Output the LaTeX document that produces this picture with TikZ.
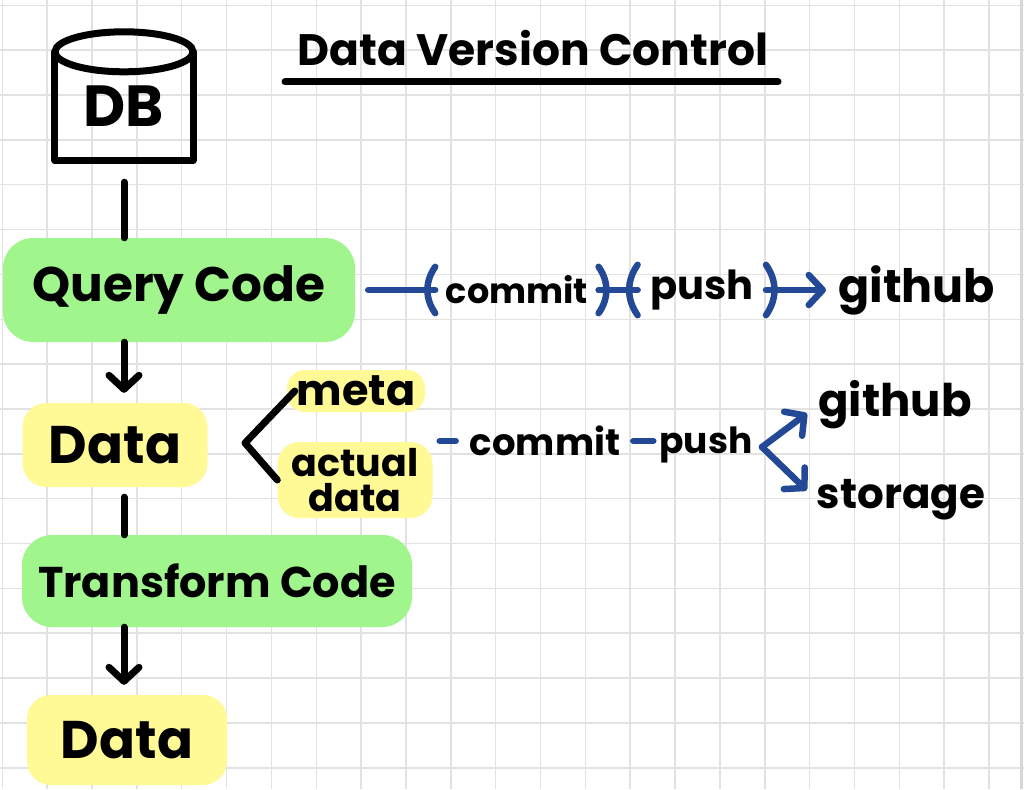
\documentclass[tikz,border=0pt]{standalone}
\usepackage{fontspec}
\setmainfont{Poppins}
\usepackage{tikz}
\usetikzlibrary{arrows.meta}
\usetikzlibrary{positioning}
\definecolor{hlgreen}{RGB}{160,246,140}
\definecolor{hlyellow}{RGB}{255,250,150}
\definecolor{penblue}{RGB}{34,72,150}
\definecolor{gridgray}{RGB}{226,226,226}
\tikzstyle{codebox} = [fill=hlgreen, rounded corners=30pt, inner sep=0pt]
\tikzstyle{databox} = [fill=hlyellow, rounded corners=24pt, inner sep=0pt]
\tikzstyle{word} = [inner sep=0pt]
\tikzstyle{parenbox} = [inner sep=0pt]
\tikzstyle{pen} = [line width=7pt, line cap=round, line join=round]
\tikzstyle{bluepen} = [pen, line width=6.5pt, draw=penblue]
\tikzstyle{gridline} = [draw=gridgray, line width=1.5pt]

\begin{document}
\begin{tikzpicture}[x=1pt, y=-1pt, >={Straight Barb[round,length=14pt,width=30pt]}]
    \useasboundingbox (0,0) rectangle (1024,789);
    \fill[white] (0,0) rectangle (1024,789);

    % the squared paper
    \foreach \i in {0,...,22}
        \draw[gridline] (2.3+44.85*\i,0) -- (2.3+44.85*\i,789);
    \foreach \j in {0,...,17}
        \draw[gridline] (0,5.3+44.85*\j) -- (1024,5.3+44.85*\j);
    \draw[draw=gridgray!95!black, line width=3pt] (1021,0) -- (1021,789);

    % title
    \node [word, anchor=base, font=\fontsize{44}{44}\selectfont\bfseries] (title) at (533,66) {Data Version Control};
    \draw [pen] (285,82) -- (778,82);

    % the database
    \node [word, minimum width=138pt, minimum height=108pt, font=\fontsize{58}{58}\selectfont\bfseries] (db) at (124,106) {DB};
    \draw [pen] (db.north west) -- (db.south west) -- (db.south east) -- (db.north east);
    \draw [pen] (db.north) ellipse (69 and 20);

    % main column
    \node [codebox, minimum width=352pt, minimum height=104pt, font=\fontsize{48.5}{48.5}\selectfont\bfseries] (query) at (179,290) {Query Code};
    \node [databox, minimum width=185pt, minimum height=84pt, font=\fontsize{53}{53}\selectfont\bfseries] (data1) at (115,445) {Data};
    \node [codebox, minimum width=390pt, minimum height=92pt, font=\fontsize{43}{43}\selectfont\bfseries] (trans) at (217,581) {Transform Code};
    \node [databox, minimum width=200pt, minimum height=90pt, font=\fontsize{53}{53}\selectfont\bfseries] (data2) at (127,740) {Data};

    \draw [pen, shorten <=22pt] (db.south) -- (db.south |- query.north);
    \draw [pen, ->, shorten >=10pt] (db.south |- query.south) -- (db.south |- data1.north);
    \draw [pen, shorten <=10pt] (db.south |- data1.south) -- (db.south |- trans.north);
    \draw [pen, ->, shorten >=10pt] (db.south |- trans.south) -- (db.south |- data2.north);

    % meta and actual data
    \node [databox, rounded corners=18pt, minimum width=138pt, minimum height=42pt, font=\fontsize{43}{43}\selectfont\bfseries] (meta) at (356,391) {meta};
    \node [databox, rounded corners=22pt, minimum width=155pt, minimum height=76pt, align=center, font=\fontsize{38}{35}\selectfont\bfseries] (actual) at (355,480) {actual\\data};
    \coordinate (fork) at (245,443);
    \draw [pen] ([xshift=8pt]meta.west) -- (fork) -- (actual.west);

    % code goes to github
    \node [parenbox, minimum width=163pt, minimum height=46pt, right=80pt of query, font=\fontsize{35}{35}\selectfont\bfseries] (c1) {commit};
    \node [parenbox, minimum width=128pt, minimum height=50pt, right=39pt of c1, font=\fontsize{40}{40}\selectfont\bfseries] (c2) {push};
    \node [word, right=72pt of c2, font=\fontsize{46}{46}\selectfont\bfseries] (gh1) {github};
    \draw [bluepen, shorten <=13pt] (query.east |- c1.west) -- (c1.west);
    \draw [bluepen] (c1.north west) to[bend right=35] (c1.south west);
    \draw [bluepen] (c1.north east) to[bend left=35] (c1.south east);
    \draw [bluepen] (c1.east) -- (c2.west);
    \draw [bluepen] (c2.north west) to[bend right=35] (c2.south west);
    \draw [bluepen] (c2.north east) to[bend left=35] (c2.south east);
    \draw [bluepen, ->, shorten >=12pt] (c2.east) -- (c2.east -| gh1.west);

    % data goes to github and storage
    \node [word, font=\fontsize{37}{37}\selectfont\bfseries] (c3) at (545,441) {commit};
    \node [word, font=\fontsize{36}{36}\selectfont\bfseries] (c4) at (706,445) {push};
    \node [word, font=\fontsize{45}{45}\selectfont\bfseries] (gh2) at (895,405) {github};
    \node [word, font=\fontsize{42}{42}\selectfont\bfseries] (storage) at (901,500) {storage};
    \coordinate (split) at (762,447);
    \draw [bluepen, shorten <=7pt, shorten >=14pt] (actual.east |- c3.west) -- (c3.west);
    \draw [bluepen, shorten <=13pt, shorten >=6pt] (c3.east) -- (c4.west |- c3.east);
    \draw [bluepen, ->, shorten >=14pt] (split) -- (gh2.west);
    \draw [bluepen, ->, shorten >=14pt] (split) -- (storage.west);
\end{tikzpicture}
\end{document}
